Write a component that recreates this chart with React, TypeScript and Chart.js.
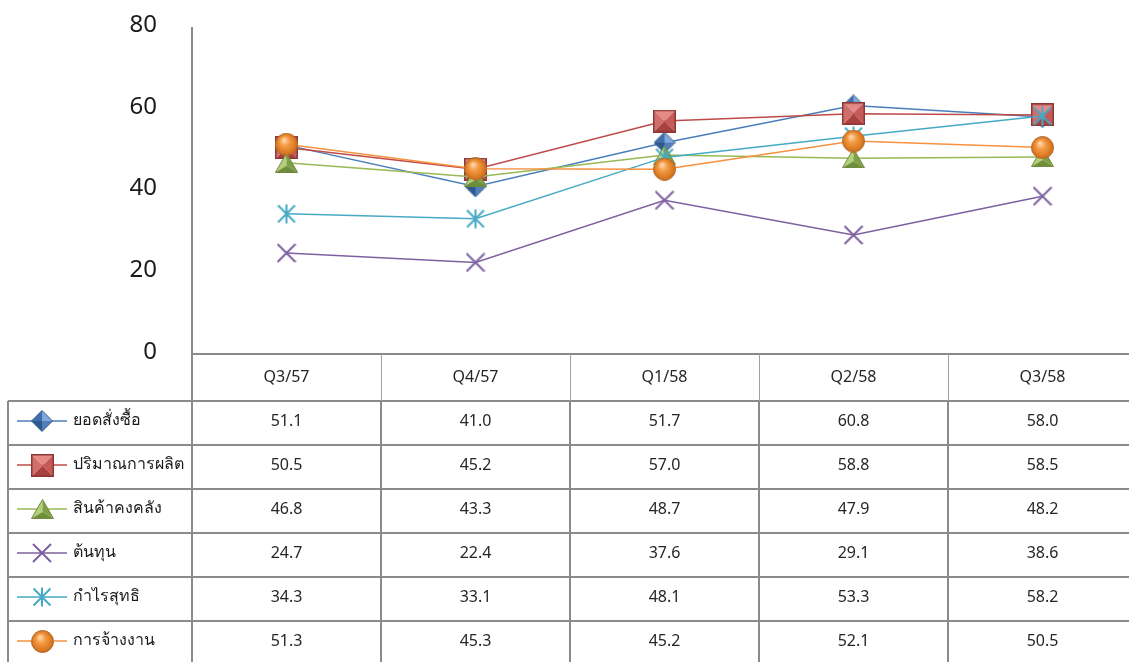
import React, { useEffect, useRef } from "react";
import { Chart, registerables } from "chart.js";

Chart.register(...registerables);

const categories = ["Q3/57", "Q4/57", "Q1/58", "Q2/58", "Q3/58"];
const seriesNames = ["ยอดสั่งซื้อ", "ปริมาณการผลิต", "สินค้าคงคลัง", "ต้นทุน", "กำไรสุทธิ", "การจ้างงาน"];
const orders = [51.1, 41.0, 51.7, 60.8, 58.0];
const production = [50.5, 45.2, 57.0, 58.8, 58.5];
const inventory = [46.8, 43.3, 48.7, 47.9, 48.2];
const cost = [24.7, 22.4, 37.6, 29.1, 38.6];
const profit = [34.3, 33.1, 48.1, 53.3, 58.2];
const employment = [51.3, 45.3, 45.2, 52.1, 50.5];
const yTicks = [0, 20, 40, 60, 80];

const lineColors = ["#4A7EBB", "#BE4B48", "#98B954", "#7D60A0", "#46AAC5", "#F69240"];

const FONT = "'Segoe UI', 'Noto Sans', 'Open Sans', sans-serif";

function mk(w: number, h: number, draw: (c: CanvasRenderingContext2D) => void) {
  const c = document.createElement("canvas");
  c.width = w;
  c.height = h;
  draw(c.getContext("2d")!);
  return c;
}

function makeMarkers() {
  const diamond = mk(22, 22, (c) => {
    const cx = 11, cy = 11;
    const pts = [[11, 0.5], [21.5, 11], [11, 21.5], [0.5, 11]];
    const fills = ["#7FA8DC", "#4F7EBA", "#2C5A90", "#3F6EA8"];
    for (let i = 0; i < 4; i++) {
      const a = pts[i], b = pts[(i + 1) % 4];
      c.beginPath();
      c.moveTo(cx, cy);
      c.lineTo(a[0], a[1]);
      c.lineTo(b[0], b[1]);
      c.closePath();
      c.fillStyle = fills[i];
      c.fill();
    }
    c.beginPath();
    pts.forEach((p, i) => (i ? c.lineTo(p[0], p[1]) : c.moveTo(p[0], p[1])));
    c.closePath();
    c.strokeStyle = "#385D8A";
    c.lineWidth = 1;
    c.stroke();
  });
  const square = mk(23, 23, (c) => {
    const cx = 11.5, cy = 11.5;
    const pts = [[0.5, 0.5], [22.5, 0.5], [22.5, 22.5], [0.5, 22.5]];
    const fills = ["#E58A87", "#C65A57", "#A9413E", "#D16E6B"];
    for (let i = 0; i < 4; i++) {
      const a = pts[i], b = pts[(i + 1) % 4];
      c.beginPath();
      c.moveTo(cx, cy);
      c.lineTo(a[0], a[1]);
      c.lineTo(b[0], b[1]);
      c.closePath();
      c.fillStyle = fills[i];
      c.fill();
    }
    c.strokeStyle = "#8C3836";
    c.lineWidth = 1.5;
    c.strokeRect(0.75, 0.75, 21.5, 21.5);
  });
  const triangle = mk(23, 20, (c) => {
    const apex = [11.5, 0.5], l = [0.5, 19.5], r = [22.5, 19.5], m = [11.5, 13];
    const facets: [number[], number[], string][] = [
      [apex, l, "#B3D17A"],
      [apex, r, "#7FA046"],
      [l, r, "#6E8E3A"],
    ];
    facets.forEach(([a, b, f]) => {
      c.beginPath();
      c.moveTo(m[0], m[1]);
      c.lineTo(a[0], a[1]);
      c.lineTo(b[0], b[1]);
      c.closePath();
      c.fillStyle = f;
      c.fill();
    });
    c.beginPath();
    c.moveTo(apex[0], apex[1]);
    c.lineTo(r[0], r[1]);
    c.lineTo(l[0], l[1]);
    c.closePath();
    c.strokeStyle = "#71893F";
    c.lineWidth = 1;
    c.stroke();
  });
  const cross = mk(20, 20, (c) => {
    c.strokeStyle = "#7D60A0";
    c.lineWidth = 2;
    c.lineCap = "butt";
    c.beginPath();
    c.moveTo(1, 1);
    c.lineTo(19, 19);
    c.moveTo(19, 1);
    c.lineTo(1, 19);
    c.stroke();
  });
  const star = mk(20, 20, (c) => {
    c.strokeStyle = "#46AAC5";
    c.lineWidth = 2;
    c.beginPath();
    c.moveTo(10, 0.5);
    c.lineTo(10, 19.5);
    c.moveTo(1.5, 1.5);
    c.lineTo(18.5, 18.5);
    c.moveTo(18.5, 1.5);
    c.lineTo(1.5, 18.5);
    c.stroke();
  });
  const circle = mk(23, 23, (c) => {
    const g = c.createRadialGradient(9, 7, 1, 11.5, 11.5, 11.5);
    g.addColorStop(0, "#FDD4A6");
    g.addColorStop(0.35, "#F59B45");
    g.addColorStop(0.85, "#D8761F");
    g.addColorStop(1, "#B0601A");
    c.beginPath();
    c.arc(11.5, 11.5, 11, 0, Math.PI * 2);
    c.fillStyle = g;
    c.fill();
    c.strokeStyle = "#B66D31";
    c.lineWidth = 1;
    c.stroke();
  });
  return [diamond, square, triangle, cross, star, circle];
}

export default function App() {
  const ref = useRef<HTMLCanvasElement | null>(null);

  useEffect(() => {
    const canvas = ref.current;
    if (!canvas) return;
    const markers = makeMarkers();
    const values = [orders, production, inventory, cost, profit, employment];

    const tablePlugin = {
      id: "dataTable",
      afterDraw(chart: any) {
        const ctx: CanvasRenderingContext2D = chart.ctx;
        const xs = chart.scales.x;
        const ys = chart.scales.y;
        const area = chart.chartArea;
        const left = area.left;
        const right = area.right;
        const colW = (right - left) / categories.length;
        const axisY = ys.getPixelForValue(0);
        const headerBottom = axisY + 47;
        const rowH = 44;
        const bottom = chart.height;
        const legendLeft = 8;

        ctx.save();
        // y tick labels
        ctx.fillStyle = "#1a1a1a";
        ctx.font = `24px ${FONT}`;
        ctx.textAlign = "right";
        ctx.textBaseline = "middle";
        yTicks.forEach((v) => {
          ctx.fillText(String(v), left - 35, ys.getPixelForValue(v) - 2);
        });

        // lines
        ctx.strokeStyle = "#8A8A8A";
        ctx.lineWidth = 2;
        ctx.beginPath();
        ctx.moveTo(left, area.top);
        ctx.lineTo(left, bottom);
        ctx.moveTo(left, axisY);
        ctx.lineTo(right, axisY);
        ctx.moveTo(legendLeft, headerBottom);
        ctx.lineTo(legendLeft, bottom);
        for (let r = 0; r <= seriesNames.length; r++) {
          const y = headerBottom + r * rowH;
          ctx.moveTo(legendLeft, y);
          ctx.lineTo(right, y);
        }
        for (let i = 1; i < categories.length; i++) {
          const x = Math.round(left + i * colW);
          ctx.moveTo(x, headerBottom);
          ctx.lineTo(x, bottom);
        }
        ctx.stroke();
        ctx.lineWidth = 1;
        ctx.strokeStyle = "#A0A0A0";
        ctx.beginPath();
        for (let i = 1; i < categories.length; i++) {
          const x = Math.round(left + i * colW) + 0.5;
          ctx.moveTo(x, axisY);
          ctx.lineTo(x, headerBottom);
        }
        ctx.stroke();

        // header labels
        ctx.fillStyle = "#262626";
        ctx.font = `16px ${FONT}`;
        ctx.textAlign = "center";
        categories.forEach((cat, i) => {
          ctx.fillText(cat, xs.getPixelForValue(i), (axisY + headerBottom) / 2);
        });

        // rows
        seriesNames.forEach((name, r) => {
          const cy = headerBottom + r * rowH + rowH / 2 - 2;
          values[r].forEach((v, i) => {
            ctx.fillStyle = "#262626";
            ctx.font = `16px ${FONT}`;
            ctx.textAlign = "center";
            ctx.fillText(v.toFixed(1), xs.getPixelForValue(i), cy);
          });
          // legend key
          ctx.strokeStyle = lineColors[r];
          ctx.lineWidth = 1.5;
          ctx.beginPath();
          ctx.moveTo(17, cy);
          ctx.lineTo(67, cy);
          ctx.stroke();
          const m = markers[r];
          ctx.drawImage(m, Math.round(42 - m.width / 2), Math.round(cy - m.height / 2));
          ctx.fillStyle = "#1a1a1a";
          ctx.font = `16px ${FONT}`;
          ctx.textAlign = "left";
          ctx.fillText(name, 73, cy - 1);
        });
        ctx.restore();
      },
    };

    const chart = new Chart(canvas, {
      type: "line",
      data: {
        labels: categories,
        datasets: seriesNames.map((name, i) => ({
          label: name,
          data: values[i],
          borderColor: lineColors[i],
          backgroundColor: lineColors[i],
          borderWidth: 1.5,
          pointStyle: markers[i] as any,
          pointRadius: 11,
          pointHoverRadius: 11,
          tension: 0,
          fill: false,
          order: seriesNames.length - 1 - i,
          clip: false as any,
        })),
      },
      options: {
        animation: false,
        responsive: false,
        devicePixelRatio: 1,
        events: [],
        layout: { autoPadding: false, padding: { left: 192, top: 27, right: 0, bottom: 670 - 354 } },
        plugins: {
          legend: { display: false },
          tooltip: { enabled: false },
          title: { display: false },
        },
        scales: {
          x: { type: "category", display: false, offset: true },
          y: {
            display: false,
            min: 0,
            max: 80,
            ticks: { stepSize: 20 },
          },
        },
      },
      plugins: [tablePlugin],
    });
    return () => chart.destroy();
  }, []);

  return (
    <div
      style={{
        position: "fixed",
        left: 0,
        top: 0,
        width: 1129,
        height: 662,
        overflow: "hidden",
        background: "#ffffff",
      }}
    >
      <canvas ref={ref} width={1137} height={670} style={{ display: "block" }} />
    </div>
  );
}
